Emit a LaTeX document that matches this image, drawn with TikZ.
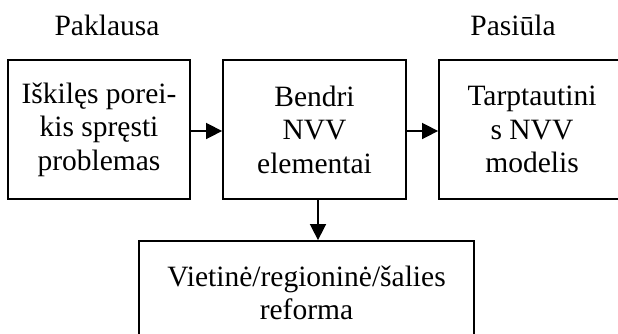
\documentclass[tikz,border=0pt]{standalone}
\usepackage{fontspec}
\setmainfont{Liberation Serif}
\usetikzlibrary{arrows.meta}
\begin{document}
\begin{tikzpicture}[x=1pt,y=-1pt,
  box/.style={draw=black,line width=1.8pt,inner sep=0pt,align=center,
    minimum height=139pt,font=\fontsize{29.5}{33.5}\selectfont},
  lbl/.style={anchor=base,inner sep=0pt,font=\fontsize{29.5}{33.5}\selectfont},
  conn/.style={line width=1.6pt,-{Triangle[length=16pt,width=16pt]}}]
\useasboundingbox (0,0) rectangle (618,333);
\clip (0,0) rectangle (618,333);
\fill[white] (0,0) rectangle (618,333);
\node[lbl] (dem) at (107,35) {Paklausa};
\node[lbl] (sup) at (513,35) {Pasiūla};
\node[box,minimum width=182pt] (b1) at (99,129.5) {Iškilęs porei-\\kis spręsti\\problemas};
\node[box,minimum width=183pt] (b2) at (314.5,129.5) {Bendri\\NVV\\elementai};
\node[box,minimum width=186pt] (b3) at (532,129.5) {Tarptautini\\s NVV\\modelis};
\node[box,minimum width=335pt,minimum height=104pt] (b4) at (306.5,293) {Vietinė/regioninė/šalies\\reforma};
\coordinate (dtop) at ([xshift=3.5pt]b2.south);
\draw[conn] ([yshift=-1.5pt]b1.east) -- ([yshift=-1.5pt]b2.west);
\draw[conn] ([yshift=-1.5pt]b2.east) -- ([yshift=-1.5pt]b3.west);
\draw[conn] (dtop) -- (dtop |- b4.north);
\end{tikzpicture}
\end{document}
